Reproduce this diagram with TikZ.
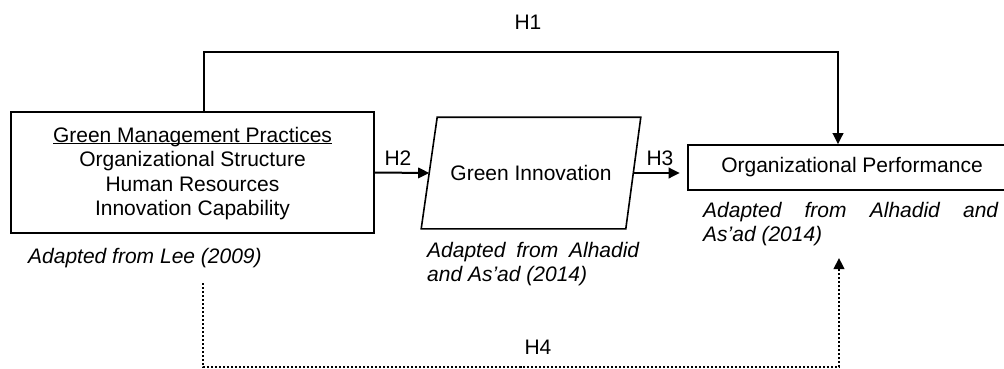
\documentclass[tikz,border=0pt]{standalone}
\usepackage{fontspec}
\setsansfont{Liberation Sans}
\usepackage{tikz}
\usetikzlibrary{arrows.meta}
\hyphenpenalty=10000
\tikzset{
  blk/.style = {draw, line width=1.6pt, align=center, inner sep=0pt, font=\sffamily\fontsize{21}{24.5}\selectfont},
  gmpbox/.style = {blk, minimum width=363pt, minimum height=121pt},% left box
  gibox/.style = {blk, draw=none, minimum width=218pt, minimum height=110pt},% slanted box, outline drawn below
  opbox/.style = {blk, minimum width=328pt, minimum height=45pt},
  src/.style = {inner sep=0pt, font=\sffamily\itshape\fontsize{21}{23.5}\selectfont},
  hlab/.style = {inner sep=0pt, font=\sffamily\fontsize{21}{24}\selectfont},
  hyp/.style = {line width=2pt, -{Triangle[length=11pt,width=10.5pt]}},
  hypdot/.style = {hyp, line width=2.4pt, dash pattern=on 2.2pt off 1.8pt}
}
\begin{document}
\begin{tikzpicture}[x=1pt,y=-1pt]
\useasboundingbox (0,0) rectangle (1004,369);
\clip (0,0) rectangle (1004,369);
\node [gmpbox] (gmp) at (192.5,172.5) {\strut\underline{\smash{Green Management Practices}}\\Organizational Structure\\Human Resources\\Innovation Capability};
\node [gibox] (gi) at (531,173) {Green Innovation};
\draw [line width=1.6pt, line join=miter] (gi.south west) -- ([xshift=16pt]gi.north west) -- (gi.north east) -- ([xshift=-15pt]gi.south east) -- cycle;
\node [opbox] (op) at (852,167.5) {Organizational Performance};
\node [src, anchor=base west] (lee) at (28,263.6) {Adapted from Lee (2009)};
\node [src, text width=212pt, align=justify, anchor=north west] (alhgi) at (427,242.5) {Adapted from Alhadid\linebreak and As'ad (2014)};
\node [src, text width=295pt, align=justify, anchor=north west] (alhop) at (703,202.5) {Adapted from Alhadid and\linebreak As'ad (2014)};
\node [hlab, anchor=base] (h1) at (528,29.6) {H1};
\node [hlab, anchor=base] (h2) at (398,165.6) {H2};
\node [hlab, anchor=base] (h3) at (660,165.6) {H3};
\node [hlab, anchor=base] (h4) at (538,354.6) {H4};
\draw [hyp] (gmp.east) -- ([xshift=8pt]gi.west);
\draw [hyp] ([xshift=-7.5pt]gi.east) -- ([xshift=-7.5pt]gi.east -| op.west);
\coordinate (h1c) at (838,52);
\draw [hyp] ([xshift=11.5pt]gmp.north) |- (h1c) -- ([xshift=-14pt]op.north);
\coordinate (h4a) at (203,283);
\coordinate (h4c) at (521,367);
\coordinate (h4b) at (839,258);
\draw [hypdot] (h4a) |- (h4c) -| (h4b);
\end{tikzpicture}
\end{document}
